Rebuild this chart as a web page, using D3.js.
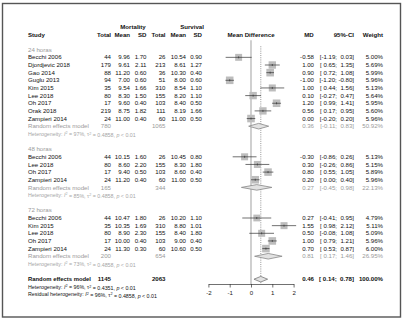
<!DOCTYPE html>
<html><head><meta charset="utf-8">
<script src="https://cdn.jsdelivr.net/npm/d3@7"></script>
<style>
body{margin:0;background:#fff}
svg{display:block}
text{font-family:"Liberation Sans",Arial,Helvetica,sans-serif;white-space:pre}
</style>
</head><body>
<svg id="chart" width="404" height="320"></svg>
<script>
// ---------- data ----------
const groupLabels = ["24 horas", "48 horas", "72 horas"];
const studyNames = ["Becchi 2006","Djordjevic 2018","Gao 2014","Guglu 2013","Kim 2015","Lee 2018","Oh 2017","Orak 2018","Zampieri 2014",
                    "Becchi 2006","Lee 2018","Oh 2017","Zampieri 2014",
                    "Becchi 2006","Kim 2015","Lee 2018","Oh 2017","Zampieri 2014"];
const studyGroup = [0,0,0,0,0,0,0,0,0, 1,1,1,1, 2,2,2,2,2];
const mortTotal = [44,179,88,94,35,80,17,219,24, 44,80,17,24, 44,35,80,17,24];
const mortMean  = [9.96,9.61,11.20,7.00,9.54,8.30,9.60,8.75,11.00, 10.15,8.60,9.40,11.20, 10.47,10.35,8.90,10.00,11.30];
const mortSD    = [1.70,2.11,0.60,0.60,1.66,1.50,0.40,1.82,0.40, 1.60,2.20,0.50,0.40, 1.80,1.69,2.30,0.40,0.30];
const survTotal = [26,213,36,51,310,155,103,111,60, 26,155,103,60, 26,310,155,103,60];
const survMean  = [10.54,8.61,10.30,8.00,8.54,8.20,8.40,8.19,11.00, 10.45,8.30,8.60,11.00, 10.20,8.80,8.40,9.00,10.60];
const survSD    = [0.90,1.27,0.40,0.60,1.10,1.10,0.50,1.66,0.50, 0.80,1.80,0.40,0.50, 1.10,1.01,1.80,0.40,0.50];
const md        = [-0.58,1.00,0.90,-1.00,1.00,0.10,1.20,0.56,0.00, -0.30,0.30,0.80,0.20, 0.27,1.55,0.50,1.00,0.70];
const ciLow     = [-1.19,0.65,0.72,-1.20,0.44,-0.27,0.99,0.17,-0.20, -0.86,-0.26,0.55,0.00, -0.41,0.98,-0.08,0.79,0.53];
const ciHigh    = [0.03,1.35,1.08,-0.80,1.56,0.47,1.41,0.95,0.20, 0.26,0.86,1.05,0.40, 0.95,2.12,1.08,1.21,0.87];
const weight    = [5.00,5.69,5.99,5.96,5.13,5.64,5.95,5.60,5.96, 5.13,5.15,5.89,5.96, 4.79,5.11,5.09,5.96,6.00];

const sgMortTotal = [780,165,200];
const sgSurvTotal = [1065,344,654];
const sgMD     = [0.36,0.27,0.81];
const sgLow    = [-0.11,-0.45,0.17];
const sgHigh   = [0.83,0.98,1.46];
const sgWeight = [50.92,22.13,26.95];
const sgI2     = [97,85,73];
const sgTau2   = ["0.4858","0.4858","0.4858"];

const overallMortTotal = 1145, overallSurvTotal = 2063;
const overallMD = 0.46, overallLow = 0.14, overallHigh = 0.78, overallWeight = 100.00;
const overallI2 = 96, overallTau2 = "0.4351";
const residualI2 = 96, residualTau2 = "0.4858";
const axisTicks = [-2,-1,0,1,2];

// ---------- layout ----------
const svg = d3.select("#chart");
const rowY = i => 49.7 + 7.65 * i;
const FS = 6.1, FSS = 5.3;
const GRAY = "#9a9a9a", LGRAY = "#a6a6a6";
const colStudy = 28;
const colMT = 111, colMM = 130, colMS = 146.5, colST = 165.5, colSM = 186, colSS = 202;
const colMD = 314, colCI = 354, colW = 383;
const x = d3.scaleLinear().domain([-2, 2]).range([208.4, 293.6]);
const axisY = 284;

svg.append("rect").attr("x", 2.5).attr("y", 3.5).attr("width", 398).attr("height", 313.5)
  .attr("fill", "none").attr("stroke", "#555").attr("stroke-width", 1.4);

const f2 = v => v.toFixed(2);
const pad = (s, n) => s.padStart(n, " ");
const ciStr = (lo, hi) => "[" + pad(f2(lo), 5) + "; " + pad(f2(hi), 5) + "]";

function txt(xp, y, s, opt = {}) {
  const t = svg.append("text").attr("x", xp).attr("y", y).attr("dy", "0.35em")
    .attr("font-size", opt.size || FS)
    .attr("font-weight", opt.bold ? "bold" : "normal")
    .attr("fill", opt.color || "#111")
    .attr("text-anchor", opt.anchor || "start")
    .text(s);
  if (opt.len) t.attr("textLength", opt.len).attr("lengthAdjust", "spacingAndGlyphs");
  return t;
}

// header
txt(133, rowY(-3), "Mortality", {bold: true, anchor: "middle"});
txt(192, rowY(-3), "Survival", {bold: true, anchor: "middle"});
const hy = rowY(-2);
txt(colStudy, hy, "Study", {bold: true});
[[colMT,"Total"],[colMM,"Mean"],[colMS,"SD"],[colST,"Total"],[colSM,"Mean"],[colSS,"SD"]]
  .forEach(([c, s]) => txt(c, hy, s, {bold: true, anchor: "end"}));
txt(x(0), hy, "Mean Difference", {bold: true, anchor: "middle"});
txt(colMD - 5, hy, "MD", {bold: true, anchor: "middle"});
txt(colCI, hy, "95%-CI", {bold: true, anchor: "end"});
txt(colW, hy, "Weight", {bold: true, anchor: "end"});

// reference lines
svg.append("line").attr("x1", x(0)).attr("x2", x(0)).attr("y1", rowY(-1.25)).attr("y2", axisY)
  .attr("stroke", "#c4c4c4").attr("stroke-width", 1.6);
svg.append("line").attr("x1", x(overallMD)).attr("x2", x(overallMD)).attr("y1", rowY(-0.45)).attr("y2", axisY)
  .attr("stroke", "#666").attr("stroke-width", 0.7).attr("stroke-dasharray", "1,1.2");

function hetText(y, label, i2, tau2, color) {
  const t = svg.append("text").attr("x", colStudy).attr("y", y).attr("dy", "0.35em")
    .attr("font-size", FSS).attr("fill", color);
  t.append("tspan").text(label + ": ");
  t.append("tspan").attr("font-style", "italic").text("I");
  t.append("tspan").attr("dy", "-0.45em").attr("font-size", FSS * 0.7).text("2");
  t.append("tspan").attr("dy", "0.45em").text(" = " + i2 + "%, ");
  t.append("tspan").text("\u03c4");
  t.append("tspan").attr("dy", "-0.45em").attr("font-size", FSS * 0.7).text("2");
  t.append("tspan").attr("dy", "0.45em").text(" = " + tau2 + ", ");
  t.append("tspan").attr("font-style", "italic").text("p");
  t.append("tspan").text(" < 0.01");
}

function diamond(y, est, lo, hi, h, fill, stroke) {
  const pts = [[x(lo), y], [x(est), y - h], [x(hi), y], [x(est), y + h]];
  svg.append("path").attr("d", d3.line()(pts) + "Z")
    .attr("fill", fill).attr("stroke", stroke).attr("stroke-width", 0.8);
}

// rows
let r = 0;
groupLabels.forEach((g, gi) => {
  txt(colStudy, rowY(r), g, {color: GRAY});
  r++;
  studyNames.forEach((name, i) => {
    if (studyGroup[i] !== gi) return;
    const y = rowY(r);
    txt(colStudy, y, name);
    txt(colMT, y, String(mortTotal[i]), {anchor: "end"});
    txt(colMM, y, f2(mortMean[i]), {anchor: "end"});
    txt(colMS, y, f2(mortSD[i]), {anchor: "end"});
    txt(colST, y, String(survTotal[i]), {anchor: "end"});
    txt(colSM, y, f2(survMean[i]), {anchor: "end"});
    txt(colSS, y, f2(survSD[i]), {anchor: "end"});
    txt(colMD, y, f2(md[i]), {anchor: "end"});
    txt(colCI, y, ciStr(ciLow[i], ciHigh[i]), {anchor: "end"});
    txt(colW, y, f2(weight[i]) + "%", {anchor: "end"});
    const s = 3.1 * Math.sqrt(weight[i]);
    svg.append("rect").attr("x", x(md[i]) - s / 2).attr("y", y - s / 2).attr("width", s).attr("height", s)
      .attr("fill", "#bdbdbd");
    svg.append("line").attr("x1", x(ciLow[i])).attr("x2", x(ciHigh[i])).attr("y1", y).attr("y2", y)
      .attr("stroke", "#333").attr("stroke-width", 0.7);
    svg.append("line").attr("x1", x(md[i])).attr("x2", x(md[i])).attr("y1", y - 1).attr("y2", y + 1)
      .attr("stroke", "#333").attr("stroke-width", 0.7);
    r++;
  });
  const y = rowY(r);
  txt(colStudy, y, "Random effects model", {color: GRAY});
  txt(colMT, y, String(sgMortTotal[gi]), {anchor: "end", color: GRAY});
  txt(colST, y, String(sgSurvTotal[gi]), {anchor: "end", color: GRAY});
  txt(colMD, y, f2(sgMD[gi]), {anchor: "end", color: GRAY});
  txt(colCI, y, ciStr(sgLow[gi], sgHigh[gi]), {anchor: "end", color: GRAY});
  txt(colW, y, f2(sgWeight[gi]) + "%", {anchor: "end", color: GRAY});
  diamond(y, sgMD[gi], sgLow[gi], sgHigh[gi], 2.8, "#e2e2e2", "#888");
  r++;
  hetText(rowY(r), "Heterogeneity", sgI2[gi], sgTau2[gi], LGRAY);
  r += 2;
});

// overall
const yo = rowY(r);
txt(colStudy, yo, "Random effects model", {bold: true, len: 63});
txt(colMT, yo, String(overallMortTotal), {anchor: "end", bold: true});
txt(colST, yo, String(overallSurvTotal), {anchor: "end", bold: true});
txt(colMD, yo, f2(overallMD), {anchor: "end", bold: true});
txt(colCI, yo, ciStr(overallLow, overallHigh), {anchor: "end", bold: true});
txt(colW, yo, f2(overallWeight) + "%", {anchor: "end", bold: true});
diamond(yo, overallMD, overallLow, overallHigh, 2.8, "#e2e2e2", "#777");
hetText(rowY(r + 1), "Heterogeneity", overallI2, overallTau2, "#111");
hetText(rowY(r + 2), "Residual heterogeneity", residualI2, residualTau2, "#111");

// axis
const ax = svg.append("g").attr("transform", `translate(0,${axisY})`)
  .call(d3.axisBottom(x).tickValues(axisTicks).tickSize(3.5).tickSizeOuter(0).tickFormat(d => String(d)));
ax.select(".domain").attr("stroke", "#333").attr("stroke-width", 0.7);
ax.selectAll(".tick line").attr("stroke", "#333").attr("stroke-width", 0.7);
ax.selectAll(".tick text").attr("font-size", FS).attr("fill", "#222")
  .attr("font-family", "Liberation Sans, Arial, sans-serif").attr("y", 7);
</script>
</body></html>
